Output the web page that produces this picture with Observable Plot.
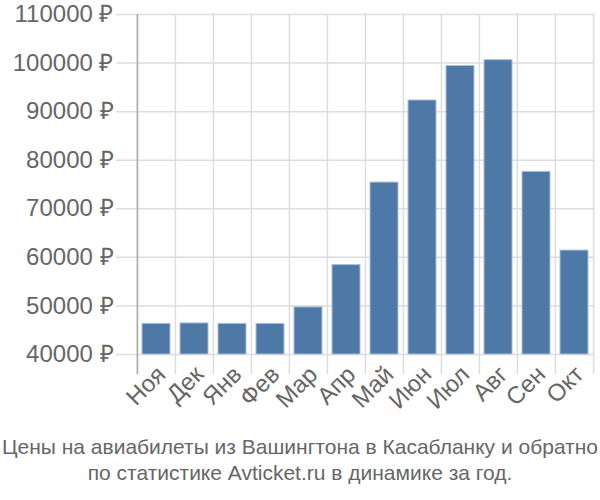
<!DOCTYPE html>
<html>
<head>
<meta charset="utf-8">
<script src="https://cdn.jsdelivr.net/npm/d3@7"></script>
<script src="https://cdn.jsdelivr.net/npm/@observablehq/plot@0.6"></script>
<style>
  html, body { margin: 0; padding: 0; background: #fff; }
  body { width: 600px; font-family: "Liberation Sans", Arial, sans-serif; }
  #caption { text-align: center; color: #666; font-size: 21px; line-height: 26px; margin-top: 4px; white-space: nowrap; }
</style>
</head>
<body>
<div id="chart"></div>
<div id="caption">Цены на авиабилеты из Вашингтона в Касабланку и обратно<br>по статистике Avticket.ru в динамике за год.</div>
<script>
const months = ["Ноя", "Дек", "Янв", "Фев", "Мар", "Апр", "Май", "Июн", "Июл", "Авг", "Сен", "Окт"];
const prices = [46300, 46400, 46300, 46300, 49700, 58400, 75400, 92300, 99400, 100600, 77600, 61400];
const yTicks = [40000, 50000, 60000, 70000, 80000, 90000, 100000, 110000];

const data = months.map((m, i) => ({month: m, price: prices[i]}));

const W = 600, H = 430, mL = 136, mR = 6, mT = 14, mB = 76;
const bw = (W - mL - mR) / months.length;

const chart = Plot.plot({
  width: W,
  height: H,
  marginLeft: mL,
  marginRight: mR,
  marginTop: mT,
  marginBottom: mB,
  style: {fontFamily: '"Liberation Sans", Arial, sans-serif', color: "#666", background: "#fff", overflow: "visible"},
  x: {type: "band", domain: months, padding: 0, label: null},
  y: {domain: [40000, 110000], label: null},
  marks: [
    Plot.ruleY(yTicks, {y: d => d, stroke: "#ddd", strokeWidth: 1.5, insetLeft: -20}),
    Plot.ruleX(months, {x: d => d, dx: -bw / 2, stroke: "#ddd", strokeWidth: 1.5, insetBottom: -20}),
    Plot.ruleX([months[months.length - 1]], {x: d => d, dx: bw / 2, stroke: "#ddd", strokeWidth: 1.5, insetBottom: -20}),
    Plot.ruleX([months[0]], {x: d => d, dx: -bw / 2, stroke: "#aaa", strokeWidth: 1.5, insetBottom: -20}),
    Plot.barY(data, {x: "month", y1: 40000, y2: "price", fill: "#4e79a7", stroke: "#a9c0da", strokeWidth: 1, insetLeft: 5, insetRight: 5}),
    Plot.axisY({ticks: yTicks, tickSize: 0, tickPadding: 23, fontSize: 24, label: null, tickFormat: d => d + " ₽"}),
    Plot.axisX({tickSize: 0, tickPadding: 16, tickRotate: -45, fontSize: 24, label: null, dx: 5})
  ]
});
document.getElementById("chart").appendChild(chart);
</script>
</body>
</html>
